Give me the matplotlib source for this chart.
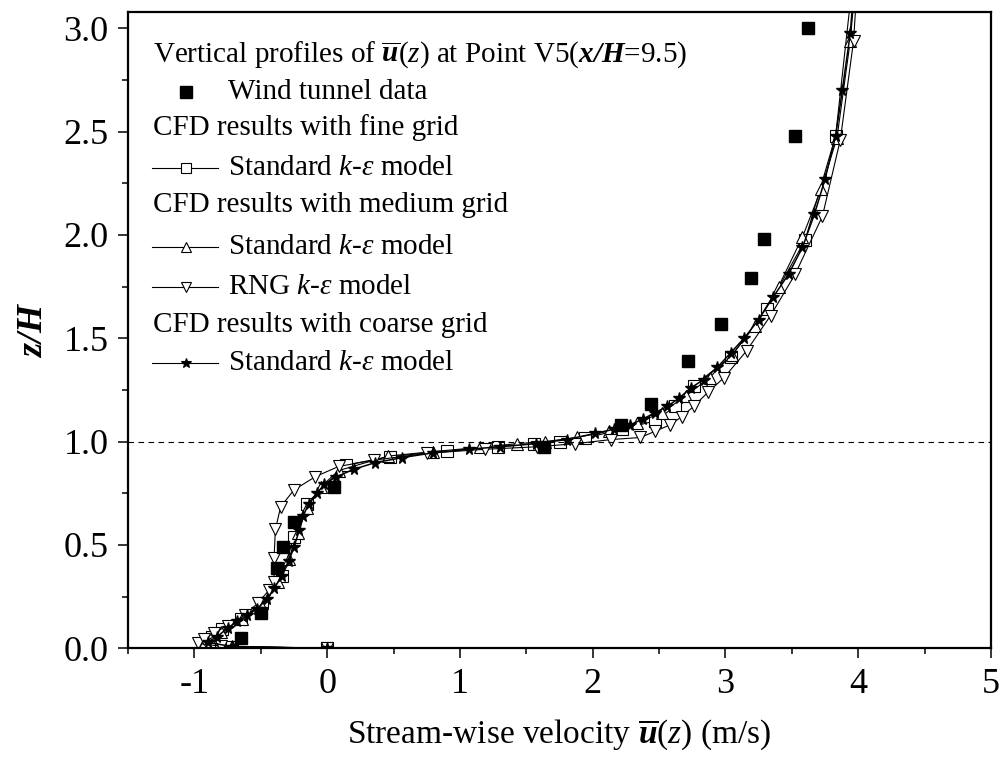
import numpy as np
import matplotlib
matplotlib.use('Agg')
import matplotlib.pyplot as plt

plt.rcParams['font.family'] = 'Liberation Serif'
plt.rcParams['mathtext.fontset'] = 'custom'
plt.rcParams['mathtext.rm'] = 'Liberation Serif'
plt.rcParams['mathtext.it'] = 'Liberation Serif:italic'
plt.rcParams['mathtext.bf'] = 'Liberation Serif:bold'
plt.rcParams['mathtext.bfit'] = 'Liberation Serif:bold:italic'

# wind tunnel data (filled squares)
wt_u = [-0.65, -0.50, -0.38, -0.33, -0.25, 0.05, 1.63, 2.21, 2.44, 2.72, 2.97, 3.19, 3.29, 3.52, 3.62]
wt_z = [0.05, 0.17, 0.39, 0.49, 0.61, 0.78, 0.975, 1.08, 1.18, 1.39, 1.57, 1.79, 1.98, 2.48, 3.0]

# CFD, fine grid, standard k-eps (open squares)
fine_u = [0.0, -0.72, -0.89, -0.87, -0.79, -0.65, -0.49, -0.34, -0.25, -0.155,
          0.14, 0.475, 0.90, 1.29, 1.555, 1.755, 1.94, 2.22, 2.47, 2.62,
          2.76, 3.04, 3.31, 3.60, 3.83, 3.97]
fine_z = [0.0, 0.008, 0.016, 0.056, 0.095, 0.14, 0.22, 0.35, 0.54, 0.70,
          0.887, 0.927, 0.956, 0.975, 0.99, 1.0, 1.016, 1.06, 1.10, 1.17,
          1.27, 1.41, 1.64, 1.975, 2.48, 3.3]

# CFD, medium grid, standard k-eps (up triangles)
med_u = [0.0, -0.72, -0.92, -0.80, -0.64, -0.50, -0.37, -0.29, -0.22, -0.15,
         -0.05, 0.087, 0.46, 0.80, 1.15, 1.43, 1.64, 1.88, 2.12, 2.33,
         2.52, 2.70, 2.88, 3.05, 3.22, 3.40, 3.58, 3.72, 3.84, 3.94, 3.99]
med_z = [0.0, 0.01, 0.03, 0.08, 0.14, 0.21, 0.32, 0.43, 0.56, 0.68,
         0.78, 0.86, 0.93, 0.952, 0.972, 0.99, 1.0, 1.02, 1.05, 1.09,
         1.14, 1.22, 1.31, 1.42, 1.56, 1.75, 1.99, 2.22, 2.47, 2.94, 3.3]

# CFD, medium grid, RNG k-eps (down triangles)
rng_u = [0.0, -0.80, -0.975, -0.93, -0.85, -0.75, -0.62, -0.52, -0.44, -0.40,
         -0.40, -0.39, -0.35, -0.25, -0.09, 0.087, 0.35, 0.75, 1.19, 1.58,
         1.87, 2.14, 2.36, 2.47, 2.58, 2.67, 2.76, 2.87, 2.99, 3.16,
         3.34, 3.525, 3.73, 3.865, 3.965, 4.0]
rng_z = [0.0, 0.01, 0.024, 0.045, 0.075, 0.11, 0.16, 0.22, 0.28, 0.32,
         0.435, 0.575, 0.685, 0.766, 0.83, 0.88, 0.91, 0.943, 0.963, 0.975,
         0.99, 1.01, 1.02, 1.05, 1.08, 1.12, 1.17, 1.24, 1.31, 1.44,
         1.61, 1.81, 2.09, 2.46, 2.94, 3.3]

# CFD, coarse grid, standard k-eps (stars)
crs_u = [0.0, -0.72, -0.90, -0.83, -0.75, -0.68, -0.60, -0.53, -0.45, -0.40,
         -0.34, -0.29, -0.25, -0.21, -0.18, -0.14, -0.077, -0.02, 0.07, 0.20,
         0.36, 0.56, 0.80, 1.065, 1.30, 1.57, 1.805, 2.02, 2.16, 2.28,
         2.38, 2.47, 2.56, 2.65, 2.74, 2.835, 2.94, 3.04, 3.14, 3.25,
         3.36, 3.475, 3.58, 3.67, 3.75, 3.83, 3.88, 3.94, 3.98]
crs_z = [0.0, 0.008, 0.03, 0.056, 0.097, 0.13, 0.16, 0.19, 0.24, 0.29,
         0.35, 0.42, 0.49, 0.57, 0.64, 0.70, 0.75, 0.795, 0.83, 0.866,
         0.898, 0.922, 0.946, 0.963, 0.975, 0.99, 1.01, 1.04, 1.06, 1.08,
         1.11, 1.14, 1.17, 1.21, 1.26, 1.30, 1.36, 1.43, 1.50, 1.59,
         1.70, 1.81, 1.94, 2.10, 2.27, 2.48, 2.70, 2.975, 3.3]

W, H = 1005, 761
fig = plt.figure(figsize=(W / 100, H / 100), dpi=100)
ax = fig.add_axes([128 / W, 1 - 648.3 / H, 863 / W, 636.6 / H])

line_kw = dict(color='black', lw=0.8, mfc='white', mec='black', mew=0.8)
ax.plot(fine_u, fine_z, marker='s', ms=8.5, **line_kw)
ax.plot(med_u, med_z, marker='^', ms=8, **line_kw)
ax.plot(rng_u, rng_z, marker='v', ms=8, **line_kw)
ax.plot(crs_u, crs_z, marker='*', ms=8.5, color='black', lw=1.1, mfc='black', mec='black')
ax.plot(wt_u, wt_z, 's', ms=9, color='black')

ax.axhline(1.0, color='black', lw=0.8, ls=(0, (5, 4)))

ax.set_xlim(-1.5, 5.0)
ax.set_ylim(0.0, 3.08)
ax.set_xticks(np.arange(-1, 5.1, 1))
ax.set_xticklabels(['-1', '0', '1', '2', '3', '4', '5'])
ax.set_xticks(np.arange(-1.5, 5.1, 0.5), minor=True)
ax.set_yticks(np.arange(0, 3.01, 0.5))
ax.set_yticks(np.arange(0, 3.01, 0.25), minor=True)
ax.tick_params(which='both', direction='out', width=1.1, labelsize=26, top=False, right=False)
ax.tick_params(which='major', length=7, pad=7)
ax.tick_params(which='minor', length=4.5)
for s in ax.spines.values():
    s.set_linewidth(1.6)

ax.set_xlabel(r'Stream-wise velocity $\overline{\mathbfit{u}}$($z$) (m/s)', fontsize=24, labelpad=12)
ax.set_ylabel(r'$\mathbfit{z/H}$', fontsize=26, labelpad=10)

# legend block, built by hand (pixel positions of the reference)
def to_ax(x, y):
    return ((x - 128) / 863, (648.3 - y) / 636.6)

fs = 21
rows = [
    (55, None, r'Vertical profiles of $\overline{\mathbfit{u}}$($z$) at Point V5($\mathbfit{x/H}$=9.5)'),
    (91.7, 'wt', 'Wind tunnel data'),
    (128, None, 'CFD results with fine grid'),
    (168, 's', r'Standard $k$-$\varepsilon$ model'),
    (205, None, 'CFD results with medium grid'),
    (247, '^', r'Standard $k$-$\varepsilon$ model'),
    (287, 'v', r'RNG $k$-$\varepsilon$ model'),
    (325, None, 'CFD results with coarse grid'),
    (363, '*', r'Standard $k$-$\varepsilon$ model'),
]
for y, mk, txt in rows:
    if mk is None:
        x0, y0 = to_ax(153, y)
        ax.text(x0, y0, txt, transform=ax.transAxes, fontsize=fs, va='center', ha='left')
        continue
    xa, ya = to_ax(152, y)
    xb, _ = to_ax(218, y)
    xm, _ = to_ax(185.7, y)
    if mk == 'wt':
        ax.plot([xm], [ya], 's', ms=9, color='black', transform=ax.transAxes, clip_on=False)
    else:
        ax.plot([xa, xb], [ya, ya], color='black', lw=0.8, transform=ax.transAxes, clip_on=False)
        fc = 'black' if mk == '*' else 'white'
        ax.plot([xm], [ya], marker=mk, ms=7.5, mfc=fc, mec='black', mew=0.8,
                transform=ax.transAxes, clip_on=False)
    xt, _ = to_ax(228, y)
    ax.text(xt, ya, txt, transform=ax.transAxes, fontsize=fs, va='center', ha='left')

plt.savefig('out.png', dpi=100)
plt.close()
